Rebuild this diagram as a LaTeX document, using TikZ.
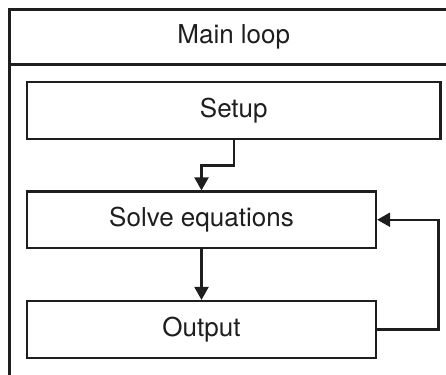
\documentclass[tikz,border=0pt]{standalone}
\usepackage{fontspec}
\setmainfont{TeX Gyre Heros}
\usetikzlibrary{arrows.meta}
\definecolor{ink}{HTML}{1E1E1E}
\tikzset{
  label/.style={font=\fontsize{26}{31}\selectfont, text=ink},
  stepbox/.style={label, draw=ink, line width=2.2pt, rectangle, inner sep=0pt, anchor=center},
  flow/.style={draw=ink, line width=2.2pt, -{Triangle[length=13pt,width=14pt]}},
  frame/.style={draw=ink, line width=2.4pt},
}
\begin{document}
\begin{tikzpicture}[x=1pt, y=-1pt]
  \useasboundingbox (0,0) rectangle (446,374);
  \clip (0,0) rectangle (446,374);
  % outer container with its header strip
  \draw[frame] (9.5,400) -- (9.5,9.5) -- (470,9.5);
  \draw[frame] (9.5,64.5) -- (470,64.5);
  \node[label] (title) at (233.75,37) {Main loop};
  % the three steps
  \node[stepbox, minimum width=413.5pt, minimum height=57pt] (setup) at (233.75,110.5) {Setup};
  \node[stepbox, minimum width=349pt, minimum height=56.5pt] (solve) at (201.5,219.75) {Solve equations};
  \node[stepbox, minimum width=349pt, minimum height=57pt] (output) at (201.5,329.5) {Output};
  % connectors
  \draw[flow] (setup.south) -- ++(0,25.3) -| (solve.north);
  \draw[flow] (solve.south) -- (output.north);
  \draw[flow] (output.east) -- ++(61.3,0) |- (solve.east);
\end{tikzpicture}
\end{document}
